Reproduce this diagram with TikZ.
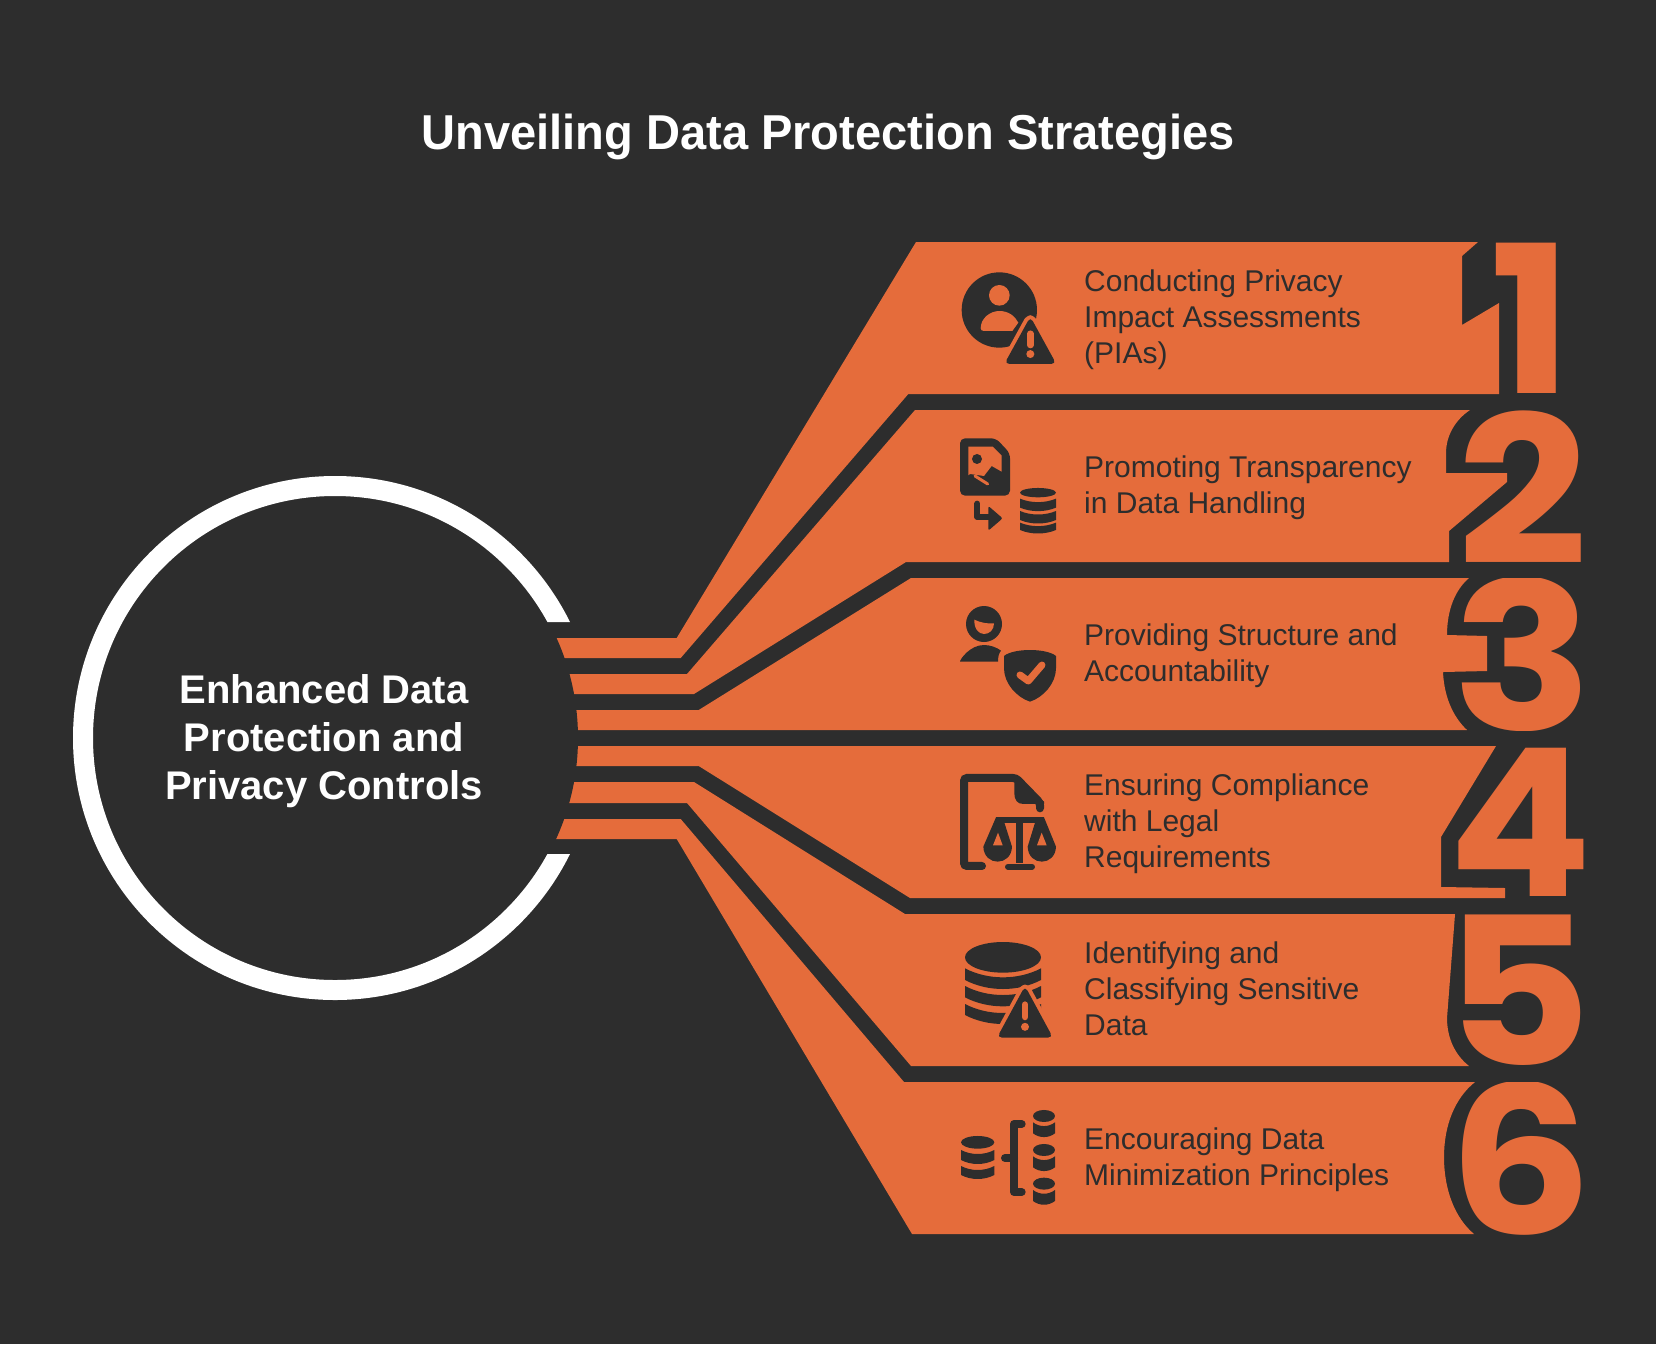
\documentclass[tikz,border=0pt]{standalone}
\usepackage{fontspec}
\setmainfont{Liberation Sans}
\newfontfamily\titlefont[UprightFont=* Bold,FakeStretch=0.96]{Liberation Sans}
\newfontfamily\numfont[UprightFont=* Bold]{Poppins}
\definecolor{ink}{HTML}{2D2D2D}
\definecolor{rust}{HTML}{E56C3B}

% one slice of a database cylinder: centre x, half width, top y, bottom y, sag
\newcommand{\dbband}[5]{
  \fill[ink] (#1-#2,#3) .. controls (#1-#2*0.4,#3+#5) and (#1+#2*0.4,#3+#5) .. (#1+#2,#3)
  -- (#1+#2,#4) .. controls (#1+#2*0.4,#4+#5) and (#1-#2*0.4,#4+#5) .. (#1-#2,#4) -- cycle;
}
% warning triangle with a halo: apex x, apex y, half base, base y
\newcommand{\warnsign}[4]{
  \path[draw=rust, line width=8pt, line join=round, rounded corners=5pt]
  (#1,#4) -- (#1+#3,#4) -- (#1,#2) -- (#1-#3,#4) -- cycle;
  \fill[ink, rounded corners=5pt] (#1,#4) -- (#1+#3,#4) -- (#1,#2) -- (#1-#3,#4) -- cycle;
  \draw[rust, line width=6.5pt, line cap=round] (#1,{#2+(#4-#2)*0.36}) -- (#1,{#2+(#4-#2)*0.6});
  \fill[rust] (#1,{#2+(#4-#2)*0.79}) circle[radius=12];
}

\tikzset{
  zoomed/.style 2 args = {shift = {(#1,#2)}, x = 0.3333pt, y = -0.3333pt},
  rowband/.style = {fill = rust},
  rowlabel/.style = {anchor = west, inner sep = 0pt, align = left, text = ink,
    font = \fontsize{30}{36}\selectfont},
  numfill/.style = {inner sep = 0pt, text = rust, transform shape, font = \numfont\fontsize{206}{206}\selectfont}
}

\begin{document}
\begin{tikzpicture}[x = 1pt, y = -1pt]
  \pgfmathsetmacro{\hubX}{335}
  \pgfmathsetmacro{\hubY}{738}

  \fill[ink] (0,0) rectangle (1656,1344);
  \useasboundingbox (0,0) rectangle (1656,1344);

  \node[text = white, font = \titlefont\fontsize{49}{52}\selectfont] (title) at (828,137)
  {Unveiling Data Protection Strategies};

  % rows, each one from the hub to the outline of its number
  \path[rowband] (500,638) -- (676.7,638) -- (916,242) -- (1478,242) -- (1462,256) -- (1462,325)
  -- (1499,303) -- (1499,394) -- (908.3,394) -- (680.7,658) -- (500,658) -- cycle;
  \path[rowband] (500,674) -- (687,674) -- (915,410) -- (1470,410)
  .. controls (1455,420) and (1446,436) .. (1446,453) -- (1446,473) -- (1507,473) -- (1507,482)
  -- (1449,531) -- (1449,562) -- (906,562) -- (694,694) -- (500,694) -- cycle;
  \path[rowband] (500,710) -- (698.7,710) -- (911,578) -- (1469,578)
  .. controls (1455,590) and (1447,610) .. (1447,635) -- (1487,636) -- (1487,671) -- (1443,672)
  .. controls (1444,695) and (1452,716) .. (1467,730) -- (500,730) -- cycle;
  \path[rowband] (500,746) -- (1496,746) -- (1441,837) -- (1441,887) -- (1505,888) -- (1505,898)
  -- (910,898) -- (698.7,766) -- (500,766) -- cycle;
  \path[rowband] (500,782) -- (694,782) -- (905,914) -- (1455,914) -- (1447,1018)
  .. controls (1447,1038) and (1455,1055) .. (1469,1066) -- (911,1066) -- (687,803) -- (500,803) -- cycle;
  \path[rowband] (500,819) -- (680.7,819) -- (904,1082) -- (1475,1082)
  .. controls (1455,1098) and (1444,1125) .. (1444,1157) .. controls (1444,1190) and (1455,1218) .. (1474,1234)
  -- (912,1234) -- (676.7,839) -- (500,839) -- cycle;

  \foreach \n/\x/\y/\t/\sx in {1/1531/318/242/1.05, 2/1522.5/488/410/1.11, 3/1523/654/578/1.13,
    4/1520/822/746/1.03, 5/1518/990/914/1.1, 6/1521/1158/1082/1.1}{
    \begin{scope}
      \clip (1400,\t) rectangle (1656,\t+152);
      \node[numfill, xscale = \sx] (num\n) at (\x,\y) {\n};
    \end{scope}
  }

  % the hub
  \fill[ink] (\hubX,\hubY) circle[radius = 243];
  \begin{scope}
    \clip (0,0) rectangle (1656,622) (0,854) rectangle (1656,1344) (0,622) rectangle (440,854);
    \fill[white, even odd rule] (\hubX,\hubY) circle[radius = 262] (\hubX,\hubY) circle[radius = 242];
  \end{scope}
  \node[align = center, text = white, font = \bfseries\fontsize{40}{48}\selectfont] (hub) at (324,741)
  {Enhanced Data\\Protection and\\Privacy Controls};

  \node[rowlabel] (label1) at (1084,320) {Conducting Privacy\\Impact Assessments\\(PIAs)};
  \node[rowlabel] (label2) at (1084,488) {Promoting Transparency\\in Data Handling};
  \node[rowlabel] (label3) at (1084,656) {Providing Structure and\\Accountability};
  \node[rowlabel] (label4) at (1084,824) {Ensuring Compliance\\with Legal\\Requirements};
  \node[rowlabel] (label5) at (1084,989) {Identifying and\\Classifying Sensitive\\Data};
  \node[rowlabel] (label6) at (1084,1160) {Encouraging Data\\Minimization Principles};

  % icon 1
  \begin{scope}[zoomed = {920}{220}]
    \fill[ink] (238,270) circle[radius = 113];
    \fill[rust] (182,325) .. controls (182,295) and (210,273) .. (238,273)
    .. controls (265,273) and (285,288) .. (295,308) -- (277,333) -- (192,333)
    .. controls (186,333) and (182,330) .. (182,325) -- cycle;
    \fill[rust] (238,226) circle[radius = 31];
    \warnsign{331}{290}{78}{432}
  \end{scope}

  % icon 2
  \begin{scope}[zoomed = {920}{220}]
    \fill[ink, rounded corners = 5pt] (120,740) -- (120,655) -- (228,655) -- (270,700) -- (270,827) -- (120,827) -- cycle;
    \fill[rust] (145,680) -- (218,680) -- (245,707) -- (245,755) -- (215,738) -- (192,768)
    -- (150,762) -- (145,766) -- cycle;
    \draw[rust, line width = 3pt, line cap = round] (165,768) -- (203,792);
    \fill[ink] (171,717) circle[radius = 15];
    \draw[ink, line width = 6pt, line cap = round, line join = round] (172,851) -- (172,891) -- (210,891);
    \fill[ink, rounded corners = 2pt] (205,858) -- (248,895) -- (205,932) -- cycle;
    \fill[ink] (354,818) ellipse[x radius = 54, y radius = 14];
    \dbband{354}{54}{836}{863}{14}
    \dbband{354}{54}{873}{900}{14}
    \dbband{354}{54}{908}{930}{14}
  \end{scope}

  % icon 3
  \begin{scope}[zoomed = {920}{580}]
    \fill[ink] (192,132) circle[radius = 54];
    \fill[rust] (163,119) .. controls (180,128) and (205,132) .. (222,130)
    .. controls (222,150) and (208,162) .. (192,162) .. controls (175,162) and (162,145) .. (163,119) -- cycle;
    \fill[ink] (120,245) .. controls (120,238) and (150,195) .. (192,195) .. controls (210,195) and (230,202) .. (243,212)
    .. controls (236,220) and (234,232) .. (234,245) -- cycle;
    \fill[ink] (252,228) .. controls (280,204) and (380,204) .. (408,228) -- (408,265)
    .. controls (408,310) and (370,352) .. (330,365) .. controls (290,352) and (252,310) .. (252,265) -- cycle;
    \draw[rust, line width = 7pt, line cap = round, line join = round] (300,285) -- (325,303) -- (366,255);
  \end{scope}

  % icon 4
  \begin{scope}[zoomed = {920}{580}]
    \draw[ink, line width = 8pt, line cap = round, rounded corners = 3pt]
    (186,858) -- (132,858) -- (132,594) -- (288,594) -- (360,668) -- (360,685);
    \fill[ink] (283,590) -- (372,665) -- (372,672) -- (310,672) .. controls (292,672) and (283,660) .. (283,640) -- cycle;
    \fill[ink] (228,710) -- (372,710) -- (372,729) -- (228,729) -- cycle;
    \fill[ink] (288,728) rectangle (310,850);
    \draw[ink, line width = 6pt, line cap = round] (264,860) -- (336,860);
    \fill[ink] (228,712) -- (190,800) .. controls (192,860) and (274,860) .. (276,800) -- (248,712) -- cycle;
    \fill[ink] (350,712) -- (323,800) .. controls (325,860) and (406,860) .. (408,800) -- (372,712) -- cycle;
    \fill[rust] (234,758) -- (248,796) -- (219,796) -- cycle;
    \fill[rust] (365,758) -- (380,796) -- (351,796) -- cycle;
  \end{scope}

  % icon 5
  \begin{scope}[zoomed = {920}{920}]
    \fill[ink] (249,112) ellipse[x radius = 114, y radius = 46];
    \dbband{249}{114}{145}{180}{36}
    \dbband{249}{114}{198}{232}{36}
    \dbband{249}{114}{252}{285}{36}
    \warnsign{315}{198}{84}{353}
  \end{scope}

  % icon 6
  \begin{scope}[zoomed = {920}{920}]
    \fill[ink] (173,667) ellipse[x radius = 50, y radius = 19];
    \dbband{173}{50}{690}{720}{16}
    \dbband{173}{50}{738}{765}{16}
    \foreach \y in {588, 690, 791}{
      \fill[ink] (372,\y) ellipse[x radius = 33, y radius = 18];
      \dbband{372}{33}{\y+19}{\y+52}{15}
    }
    \draw[ink, line width = 8pt, line cap = round, line join = round] (305,612) -- (282,612) -- (282,816) -- (305,816);
    \draw[ink, line width = 8pt, line cap = round] (255,714) -- (282,714);
  \end{scope}
\end{tikzpicture}
\end{document}
